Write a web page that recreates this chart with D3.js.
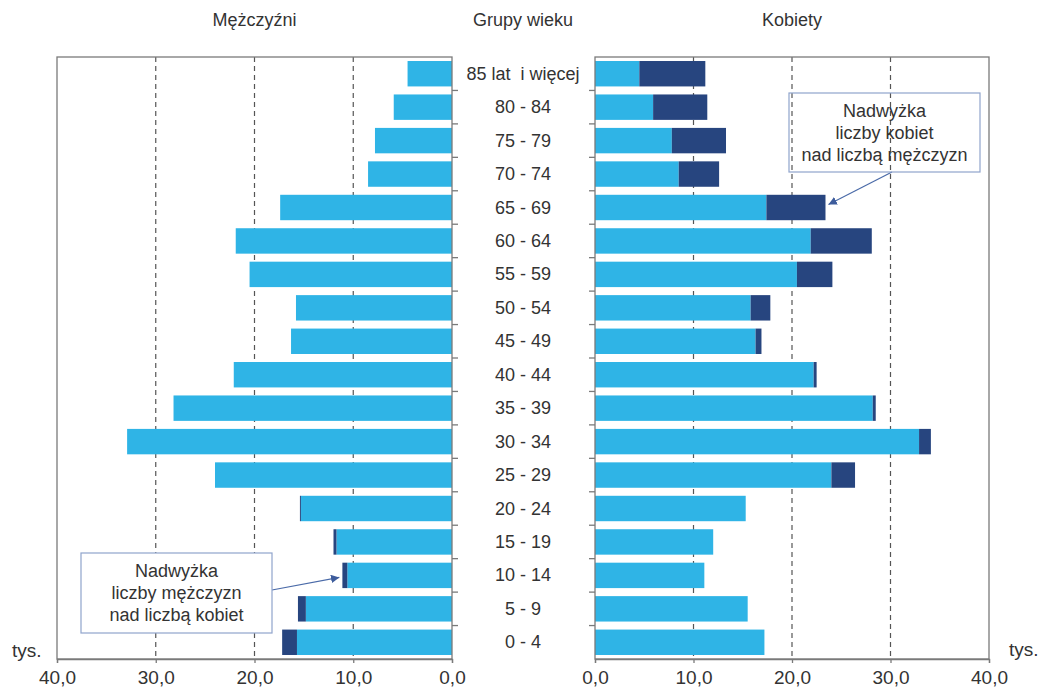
<!DOCTYPE html>
<html lang="pl">
<head>
<meta charset="UTF-8">
<title>Piramida wieku</title>
<script src="https://cdnjs.cloudflare.com/ajax/libs/d3/7.8.5/d3.min.js"></script>
<style>
  body { margin: 0; background: #fff; }
  svg text { font-family: "Liberation Sans", Arial, sans-serif; fill: #333; }
</style>
</head>
<body>
<svg id="chart" width="1042" height="690"></svg>
<script>
// age groups, top to bottom
var categories = ["85 lat  i więcej", "80 - 84", "75 - 79", "70 - 74", "65 - 69", "60 - 64",
    "55 - 59", "50 - 54", "45 - 49", "40 - 44", "35 - 39", "30 - 34", "25 - 29",
    "20 - 24", "15 - 19", "10 - 14", "5 - 9", "0 - 4"];

// tys. osób
var menBase     = [4.5, 5.9, 7.8, 8.5, 17.4, 21.9, 20.5, 15.8, 16.3, 22.1, 28.2, 32.9, 24.0, 15.3, 11.7, 10.6, 14.8, 15.7];
var menExcess   = [0, 0, 0, 0, 0, 0, 0, 0, 0, 0, 0, 0, 0, 0.1, 0.3, 0.5, 0.8, 1.5];
var womenBase   = [4.5, 5.9, 7.8, 8.5, 17.4, 21.9, 20.5, 15.8, 16.3, 22.2, 28.2, 32.9, 24.0, 15.3, 12.0, 11.1, 15.5, 17.2];
var womenExcess = [6.7, 5.5, 5.5, 4.1, 6.0, 6.2, 3.6, 2.0, 0.6, 0.3, 0.3, 1.2, 2.4, 0, 0, 0, 0, 0];

var xTicks = [0, 10, 20, 30, 40];

var colors = { base: "#2fb4e6", excess: "#27457f", frame: "#7a7a7a", grid: "#555" };

var plotTop = 57, plotBottom = 659;
var left = { x0: 452, x40: 57 };
var right = { x0: 595, x40: 989 };

var svg = d3.select("#chart");

var y = d3.scaleBand()
    .domain(categories)
    .range([plotTop, plotBottom])
    .paddingInner(0.24)
    .paddingOuter(0.12);

var xl = d3.scaleLinear().domain([0, 40]).range([left.x0, left.x40]);
var xr = d3.scaleLinear().domain([0, 40]).range([right.x0, right.x40]);

var fmt = function (d) { return d3.format(".1f")(d).replace(".", ","); };

function drawPanel(x, base, excess, side) {
    var g = svg.append("g");
    var xa = Math.min(x(0), x(40)), xb = Math.max(x(0), x(40));

    // dashed grid
    g.selectAll(".grid")
        .data([10, 20, 30])
        .enter().append("line")
        .attr("x1", x).attr("x2", x)
        .attr("y1", plotTop).attr("y2", plotBottom)
        .attr("stroke", colors.grid)
        .attr("stroke-width", 1.2)
        .attr("stroke-dasharray", "5,4");

    // bars: base then excess
    g.selectAll(".base")
        .data(categories)
        .enter().append("rect")
        .attr("y", function (d) { return y(d); })
        .attr("height", y.bandwidth())
        .attr("x", function (d, i) { return Math.min(x(0), x(base[i])); })
        .attr("width", function (d, i) { return Math.abs(x(base[i]) - x(0)); })
        .attr("fill", colors.base);

    g.selectAll(".excess")
        .data(categories)
        .enter().append("rect")
        .attr("y", function (d) { return y(d); })
        .attr("height", y.bandwidth())
        .attr("x", function (d, i) { return Math.min(x(base[i]), x(base[i] + excess[i])); })
        .attr("width", function (d, i) { return Math.abs(x(base[i] + excess[i]) - x(base[i])); })
        .attr("fill", colors.excess);

    // frame
    g.append("rect")
        .attr("x", xa).attr("y", plotTop)
        .attr("width", xb - xa).attr("height", plotBottom - plotTop)
        .attr("fill", "none")
        .attr("stroke", colors.frame)
        .attr("stroke-width", 1.3);

    // x axis
    var axis = g.append("g")
        .attr("transform", "translate(0," + plotBottom + ")")
        .call(d3.axisBottom(x).tickValues(xTicks).tickFormat(fmt).tickSize(4).tickPadding(8));
    axis.select(".domain").attr("stroke", colors.frame).attr("stroke-width", 1.3);
    axis.selectAll(".tick line").attr("stroke", colors.frame).attr("stroke-width", 1.3);
    axis.selectAll(".tick text")
        .attr("font-size", "19px")
        .attr("font-family", "Liberation Sans, Arial, sans-serif")
        .attr("fill", "#333");

    // category ticks on inner edge
    var xi = x(0);
    var dir = side === "left" ? 1 : -1;
    g.selectAll(".ytick")
        .data(d3.range(1, categories.length))
        .enter().append("line")
        .attr("x1", xi).attr("x2", xi + dir * 6)
        .attr("y1", function (i) { return plotTop + i * y.step(); })
        .attr("y2", function (i) { return plotTop + i * y.step(); })
        .attr("stroke", colors.frame)
        .attr("stroke-width", 1.3);
}

drawPanel(xl, menBase, menExcess, "left");
drawPanel(xr, womenBase, womenExcess, "right");

// category labels
svg.selectAll(".cat")
    .data(categories)
    .enter().append("text")
    .attr("x", 523)
    .attr("y", function (d) { return y(d) + y.bandwidth() / 2 + 6; })
    .attr("text-anchor", "middle")
    .attr("font-size", "18px")
    .style("white-space", "pre")
    .text(function (d) { return d; });

// headers
svg.append("text").attr("x", xl(20)).attr("y", 26).attr("text-anchor", "middle")
    .attr("font-size", "18px").text("Mężczyźni");
svg.append("text").attr("x", 523).attr("y", 26).attr("text-anchor", "middle")
    .attr("font-size", "18px").text("Grupy wieku");
svg.append("text").attr("x", xr(20)).attr("y", 26).attr("text-anchor", "middle")
    .attr("font-size", "18px").text("Kobiety");

svg.append("text").attr("x", 12).attr("y", 657).attr("font-size", "19px").text("tys.");
svg.append("text").attr("x", 1009).attr("y", 656).attr("font-size", "19px").text("tys.");

// annotations
var defs = svg.append("defs");
defs.append("marker")
    .attr("id", "arrow")
    .attr("viewBox", "0 0 10 10")
    .attr("refX", 10).attr("refY", 5)
    .attr("markerWidth", 7).attr("markerHeight", 7)
    .attr("orient", "auto")
    .append("path")
    .attr("d", "M0,0 L10,5 L0,10 z")
    .attr("fill", "#3d5c9c");

function note(box, lines, from, to, filled) {
    svg.append("line")
        .attr("x1", from[0]).attr("y1", from[1])
        .attr("x2", to[0]).attr("y2", to[1])
        .attr("stroke", "#4a6aa8")
        .attr("stroke-width", 1.2)
        .attr("marker-end", "url(#arrow)");
    svg.append("rect")
        .attr("x", box[0]).attr("y", box[1])
        .attr("width", box[2]).attr("height", box[3])
        .attr("fill", filled ? "#fff" : "none")
        .attr("stroke", "#8fa4cc")
        .attr("stroke-width", 1.2);
    svg.selectAll(null)
        .data(lines)
        .enter().append("text")
        .attr("x", box[0] + box[2] / 2)
        .attr("y", function (d, i) { return box[1] + 24 + i * 21.8; })
        .attr("text-anchor", "middle")
        .attr("font-size", "18px")
        .text(function (d) { return d; });
}

note([81, 553, 191, 80], ["Nadwyżka", "liczby mężczyzn", "nad liczbą kobiet"],
    [272, 590], [xl(menBase[15] + menExcess[15]) - 3, y("10 - 14") + y.bandwidth() / 2 + 2], true);
note([789, 93, 191, 79], ["Nadwyżka", "liczby kobiet", "nad liczbą mężczyzn"],
    [892, 172], [xr(womenBase[4] + womenExcess[4]) + 3, y("65 - 69") + y.bandwidth() / 2 - 3], false);
</script>
</body>
</html>
